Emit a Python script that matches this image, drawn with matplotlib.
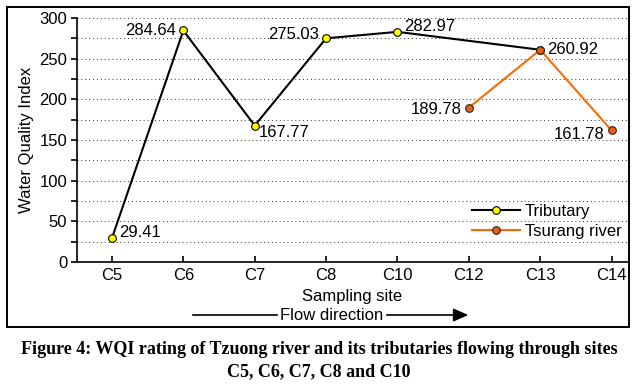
import matplotlib.pyplot as plt
import matplotlib.patches as patches
import numpy as np

plt.rcParams['font.family'] = ['Liberation Sans', 'DejaVu Sans']

###############################################################################
# Data
###############################################################################
sites = ['C5', 'C6', 'C7', 'C8', 'C10', 'C12', 'C13', 'C14']
trib_sites = ['C5', 'C6', 'C7', 'C8', 'C10', 'C13']
trib_wqi = [29.41, 284.64, 167.77, 275.03, 282.97, 260.92]
tsur_sites = ['C12', 'C13', 'C14']
tsur_wqi = [189.78, 260.92, 161.78]

# label placement per point (offset in points, ha, va)
trib_lbl = [(5, 4, 'left', 'center'), (-5, 0, 'right', 'center'),
            (3, -5, 'left', 'center'), (-5, 3, 'right', 'center'),
            (5, 4, 'left', 'center'), None]
tsur_lbl = [(-5, -1, 'right', 'center'), (5, 0, 'left', 'center'),
            (-5, -3, 'right', 'center')]

caption = ('Figure 4: WQI rating of Tzuong river and its tributaries flowing through sites\n'
           'C5, C6, C7, C8 and C10')

FS = 12

###############################################################################
# Plot
###############################################################################
fig = plt.figure(figsize=(6.38, 3.89), dpi=100)
ax = fig.add_axes([77/638, 1-262/389, (628-77)/638, (262-18)/389])

xpos = {s: i for i, s in enumerate(sites)}
tx = [xpos[s] for s in trib_sites]
ox = [xpos[s] for s in tsur_sites]

ax.plot(tx, trib_wqi, color='black', lw=1.5, marker='o', ms=5.5,
        mfc='#FFFF00', mec='black', mew=0.8, label='Tributary', zorder=3)
ax.plot(ox, tsur_wqi, color='#FF6A00', lw=1.5, marker='o', ms=5.5,
        mfc='#E8600F', mec='#222222', mew=0.8, label='Tsurang river', zorder=4)

for x, y, l in zip(tx, trib_wqi, trib_lbl):
    if l is None:
        continue
    ax.annotate('%.2f' % y, (x, y), xytext=(l[0], l[1]), textcoords='offset points',
                ha=l[2], va=l[3], fontsize=FS)
for x, y, l in zip(ox, tsur_wqi, tsur_lbl):
    ax.annotate('%.2f' % y, (x, y), xytext=(l[0], l[1]), textcoords='offset points',
                ha=l[2], va=l[3], fontsize=FS)

ax.set_xlim(-0.49, 7.23)
ax.set_ylim(0, 300)
ax.set_xticks(range(len(sites)))
ax.set_xticklabels(sites)
ax.set_yticks(np.arange(0, 301, 50))
ax.set_yticks(np.arange(25, 300, 50), minor=True)
ax.tick_params(axis='x', direction='in', length=4, width=1.2, labelsize=FS, pad=4)
ax.tick_params(axis='y', which='both', direction='out', length=4, width=1.2, labelsize=FS, pad=3)
ax.grid(axis='y', which='both', linestyle=(0, (1, 3)), color='#333333', lw=0.7)
for s in ['top', 'right']:
    ax.spines[s].set_visible(False)
for s in ['left', 'bottom']:
    ax.spines[s].set_linewidth(1.2)
ax.set_ylabel('Water Quality Index', fontsize=FS, labelpad=4)
ax.set_xlabel('Sampling site', fontsize=FS, labelpad=5)

ax.legend(loc='lower right', frameon=False, fontsize=FS, handlelength=2.9,
          bbox_to_anchor=(1.0, 0.066), borderaxespad=0, labelspacing=0.3, handletextpad=0.25)

# flow direction arrow
fig.text(332/638, 1-315/389, 'Flow direction', ha='center', va='center', fontsize=FS)
fig.add_artist(patches.FancyArrowPatch((190/638, 1-315/389), (280/638, 1-315/389),
                                       transform=fig.transFigure, arrowstyle='-', lw=1.2, color='black'))
fig.add_artist(patches.FancyArrowPatch((384/638, 1-315/389), (471/638, 1-315/389),
                                       transform=fig.transFigure, arrowstyle='-|>,head_length=9,head_width=4',
                                       lw=1.2, color='black', mutation_scale=1))

# outer frame
fig.add_artist(patches.Rectangle((7/638, 1-327/389), 622/638, 320/389, transform=fig.transFigure,
                                 fill=False, ec='black', lw=1.4))

fig.text(0.5, 1-361/389, caption, ha='center', va='center', fontsize=13,
         family=['Liberation Serif', 'DejaVu Serif'], weight='bold', linespacing=1.4)

plt.savefig('out.png', dpi=100)
